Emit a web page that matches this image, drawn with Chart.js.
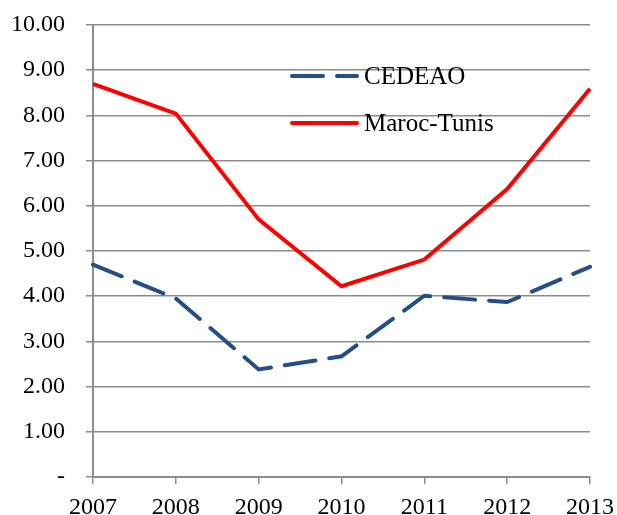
<!DOCTYPE html>
<html><head><meta charset="utf-8">
<script src="https://cdn.jsdelivr.net/npm/chart.js@4/dist/chart.umd.min.js"></script>
<style>html,body{margin:0;padding:0;background:#fff}#wrap{width:617px;height:515px}</style>
</head><body><div id="wrap"><canvas id="c" width="617" height="515"></canvas></div>
<script>
const categories = ['2007','2008','2009','2010','2011','2012','2013'];
const cedeao = [4.70, 3.95, 2.38, 2.67, 4.01, 3.87, 4.65];
const marocTunis = [8.70, 8.04, 5.70, 4.22, 4.81, 6.37, 8.59];
const seriesNames = ['CEDEAO', 'Maroc-Tunis'];
const FONT = '"Liberation Serif", "Times New Roman", serif';

const legendPlugin = {
  id: 'insideLegend',
  afterDraw(chart) {
    const ctx = chart.ctx;
    const items = [
      {label: seriesNames[0], color: '#254E85', dash: [31, 14], y: 76},
      {label: seriesNames[1], color: '#FF0000', dash: [], y: 123}
    ];
    ctx.save();
    ctx.font = '25px ' + FONT;
    ctx.textBaseline = 'middle';
    items.forEach(it => {
      ctx.beginPath();
      ctx.setLineDash(it.dash);
      ctx.lineWidth = 4;
      ctx.lineCap = 'round';
      ctx.strokeStyle = it.color;
      ctx.moveTo(292, it.y);
      ctx.lineTo(357, it.y);
      ctx.stroke();
      ctx.setLineDash([]);
      ctx.fillStyle = '#000';
      ctx.fillText(it.label, 364, it.y + 1);
    });
    ctx.restore();
  }
};

new Chart(document.getElementById('c'), {
  type: 'line',
  data: {
    labels: categories,
    datasets: [
      {label: seriesNames[0], data: cedeao, borderColor: '#254E85', borderWidth: 4, borderDash: [31, 14], borderCapStyle: 'round', pointRadius: 0, tension: 0, fill: false},
      {label: seriesNames[1], data: marocTunis, borderColor: '#FF0000', borderWidth: 4, pointRadius: 0, tension: 0, fill: false}
    ]
  },
  options: {
    responsive: false,
    animation: false,
    devicePixelRatio: 1,
    layout: {padding: {left: 0, right: 27, top: 25, bottom: 0}},
    plugins: {legend: {display: false}, tooltip: {enabled: false}},
    scales: {
      x: {
        offset: false,
        afterFit: s => { s.height = 38; s.paddingLeft = 0; s.paddingRight = 0; },
        grid: {drawOnChartArea: false, drawTicks: true, tickLength: 7, color: '#8c8c8c', lineWidth: 1.5},
        border: {color: '#8c8c8c', width: 2},
        ticks: {font: {family: FONT, size: 24}, color: '#000', padding: 9, maxRotation: 0, autoSkip: false}
      },
      y: {
        min: 0, max: 10,
        afterFit: s => { s.width = 93; s.paddingTop = 0; s.paddingBottom = 0; },
        grid: {color: '#8c8c8c', lineWidth: 1.5, tickLength: 7, drawTicks: true},
        border: {color: '#8c8c8c', width: 2},
        ticks: {stepSize: 1, font: {family: FONT, size: 24}, color: '#000', padding: 21,
          callback: v => v === 0 ? '-' : Number(v).toFixed(2)}
      }
    }
  },
  plugins: [legendPlugin]
});
</script></body></html>
